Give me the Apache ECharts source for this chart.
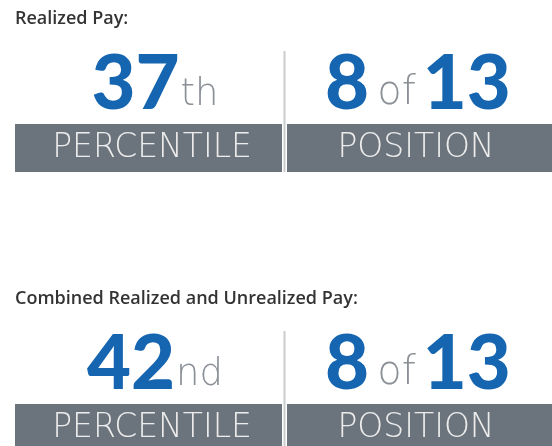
<!DOCTYPE html>
<html>
<head>
<meta charset="utf-8">
<script src="https://cdn.jsdelivr.net/npm/echarts@6/dist/echarts.min.js"></script>
<style>
  html, body { margin: 0; padding: 0; background: #fff; }
  #main { width: 552px; height: 446px; }
</style>
</head>
<body>
<div id="main"></div>
<script>
// one block per pay measure
const titles = ['Realized Pay:', 'Combined Realized and Unrealized Pay:']
const percentiles = [37, 42]
const suffixes = ['th', 'nd']
const ranks = [8, 8]
const totals = [13, 13]
const labels = ['PERCENTILE', 'POSITION']

const BLUE = '#1665b0'
const BAR = '#6b737c'
const SUB = '#8b9097'
const THIN = 'DejaVu Sans'

const chart = echarts.init(document.getElementById('main'))

const renderBlock = (params, api) => {
  const i = params.dataIndex
  const oy = api.coord([0, api.value(1)])[1]
  const big = { fontFamily: 'Lato', fontWeight: 900, fontSize: 76, lineHeight: 76, fill: BLUE, verticalAlign: 'bottom' }
  const small = { fontFamily: THIN, fontWeight: 200, fontSize: 37, lineHeight: 37, fill: SUB, verticalAlign: 'bottom', padding: [0, 0, 8, 1] }
  const ofStyle = { fontFamily: THIN, fontWeight: 200, fontSize: 40, lineHeight: 40, fill: SUB, verticalAlign: 'bottom', padding: [0, 7, 8, 8] }
  return {
    type: 'group',
    children: [
      {
        type: 'text',
        x: 15, y: oy + 10,
        style: { text: titles[i], fontFamily: 'Open Sans', fontWeight: 600, fontSize: 18, fill: '#333' }
      },
      { type: 'rect', shape: { x: 15, y: oy + 124, width: 267, height: 48 }, style: { fill: BAR } },
      { type: 'rect', shape: { x: 287, y: oy + 124, width: 265, height: 48 }, style: { fill: BAR } },
      {
        type: 'line',
        shape: { x1: 284.5, y1: oy + 51, x2: 284.5, y2: oy + 172 },
        style: { stroke: '#c9cbcd', lineWidth: 2 }
      },
      {
        type: 'text',
        x: 152, y: oy + 148,
        style: {
          text: labels[0], fontFamily: THIN, fontWeight: 200, fontSize: 33,
          fill: '#ececec', align: 'center', verticalAlign: 'middle'
        }
      },
      {
        type: 'text',
        x: 416, y: oy + 148,
        style: {
          text: labels[1], fontFamily: THIN, fontWeight: 200, fontSize: 33,
          fill: '#ececec', align: 'center', verticalAlign: 'middle'
        }
      },
      {
        type: 'text',
        x: 155, y: oy + 122,
        style: {
          text: '{b|' + percentiles[i] + '}{s|' + suffixes[i] + '}',
          align: 'center', verticalAlign: 'bottom',
          rich: { b: big, s: small }
        }
      },
      {
        type: 'text',
        x: 418, y: oy + 122,
        style: {
          text: '{b|' + ranks[i] + '}{s|of}{b|' + totals[i] + '}',
          align: 'center', verticalAlign: 'bottom',
          rich: { b: big, s: ofStyle }
        }
      }
    ]
  }
}

const option = {
  animation: false,
  grid: { left: 0, right: 0, top: 0, height: 280 },
  xAxis: { type: 'value', min: 0, max: 1, show: false },
  yAxis: { type: 'category', data: titles, inverse: true, boundaryGap: false, show: false },
  series: [
    {
      type: 'custom',
      renderItem: renderBlock,
      clip: false,
      data: titles.map((t, i) => [0, i])
    }
  ]
}
chart.setOption(option)
</script>
</body>
</html>
